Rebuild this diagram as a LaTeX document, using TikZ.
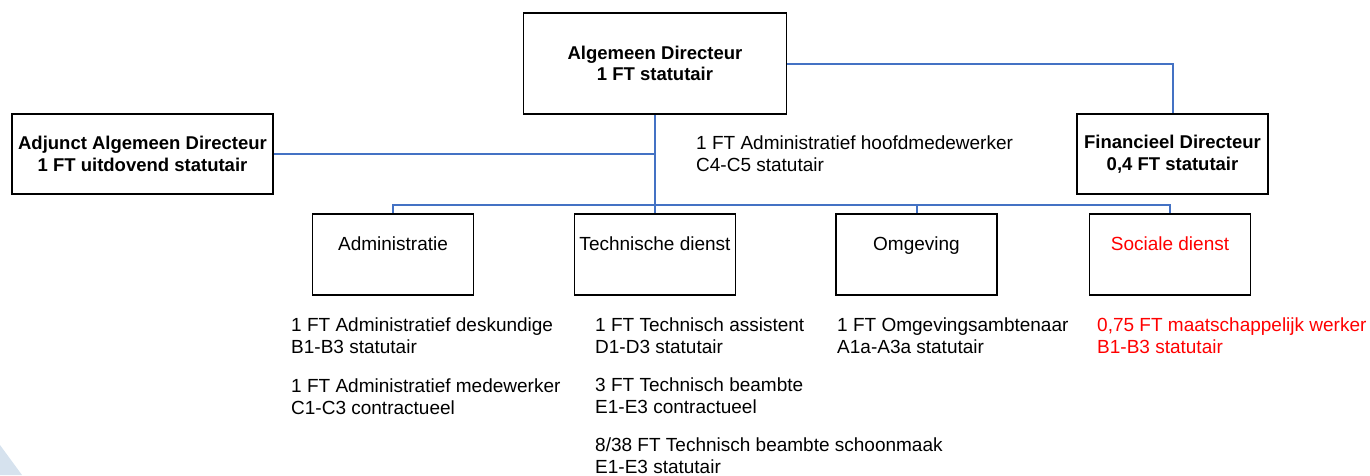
\documentclass[tikz,border=0pt]{standalone}
\usepackage{fontspec}
\setmainfont{Liberation Sans}

\definecolor{orgblue}{RGB}{68,114,196}
\definecolor{haze}{RGB}{214,226,238}

\tikzset{
	unitbox/.style={draw=black, line width=1.7pt, inner sep=0pt, align=center,
		font=\fontsize{18.5}{21.5}\selectfont\bfseries},
	link/.style={draw=orgblue, line width=2pt},
	unitname/.style={inner sep=0pt, anchor=base, font=\fontsize{19}{21.5}\selectfont},
	staff/.style={inner sep=0pt, anchor=north west, align=left,
		font=\fontsize{19}{21.5}\selectfont},
}

\begin{document}
\begin{tikzpicture}[x=1pt, y=-1pt]
	\useasboundingbox (0,0) rectangle (1370,475);

	\fill
		[haze] (0,445) -- (22,475) -- (0,475) -- cycle;

	\node (dir) at (655, 63.5) [unitbox, minimum width=263, minimum height=101]
		{Algemeen Directeur\\1 FT statutair};

	\node (adj) at (142.5, 154) [unitbox, minimum width=261, minimum height=80]
		{Adjunct Algemeen Directeur\\1 FT uitdovend statutair};

	\node (fin) at (1172.5, 154) [unitbox, minimum width=191, minimum height=80]
		{Financieel Directeur\\0,4 FT statutair};

	\foreach \name/\x/\unit/\col in {adm/393/Administratie/black, tech/655/Technische dienst/black,
		omg/916.5/Omgeving/black, soc/1170/Sociale dienst/red}
	{
		\node (\name) at (\x, 254.5) [unitbox, minimum width=161, minimum height=81] {};
		\node (\name-lbl) at (\x, 250.5) [unitname, text=\col] {\unit};
	}

	\coordinate (busL) at (393, 205);
	\coordinate (busR) at (1170, 205);

	\draw
		[link] (adm.north) -- (busL) -- (busR) -- (soc.north);

	\draw
		[link] (dir.south) -- (tech.north);

	\draw
		[link] (omg.north) -- (omg.north |- busL);

	\draw
		[link] (adj.east) -- (adj.east -| dir.south);

	\draw
		[link] (dir.east) -| (fin.north);

	\node (hoofd) at (696, 136) [staff]
		{1 FT Administratief hoofdmedewerker\\C4-C5 statutair};

	\node (admstaff) at (291, 318) [staff]
		{1 FT Administratief deskundige\\B1-B3 statutair\\[18pt]
		1 FT Administratief medewerker\\C1-C3 contractueel};

	\node (techstaff) at (595, 318) [staff]
		{1 FT Technisch assistent\\D1-D3 statutair\\[17pt]
		3 FT Technisch beambte\\E1-E3 contractueel\\[17pt]
		8/38 FT Technisch beambte schoonmaak\\E1-E3 statutair};

	\node (omgstaff) at (837, 318) [staff]
		{1 FT Omgevingsambtenaar\\A1a-A3a statutair};

	\node (socstaff) at (1097, 318) [staff, text=red]
		{0,75 FT maatschappelijk werker\\B1-B3 statutair};
\end{tikzpicture}
\end{document}
